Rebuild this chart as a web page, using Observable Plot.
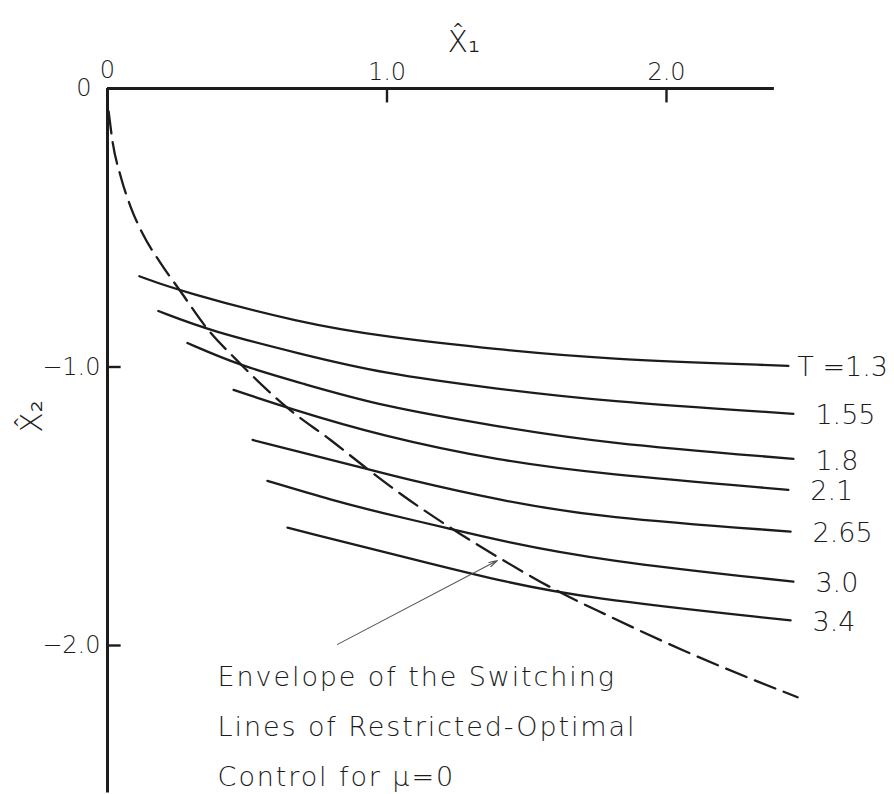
<!DOCTYPE html>
<html><head><meta charset="utf-8">
<script src="https://cdn.jsdelivr.net/npm/d3@7"></script>
<script src="https://cdn.jsdelivr.net/npm/@observablehq/plot@0.6"></script>
<style>
body{margin:0;background:#fff}
#chart svg{display:block}
</style>
</head><body><div id="chart"></div>
<script>
// ---- data ----
const tLabels = ["T =1.3", "1.55", "1.8", "2.1", "2.65", "3.0", "3.4"];
const curveT130 = [[0.114,-0.674],[0.261,-0.728],[0.691,-0.842],[1.000,-0.893],[1.406,-0.938],[1.764,-0.971],[2.436,-0.996]];
const curveT155 = [[0.182,-0.799],[0.369,-0.871],[0.691,-0.953],[0.977,-1.022],[1.406,-1.080],[1.764,-1.122],[2.454,-1.168]];
const curveT180 = [[0.286,-0.914],[0.476,-0.996],[0.691,-1.057],[0.977,-1.140],[1.406,-1.215],[1.764,-1.272],[2.454,-1.330]];
const curveT210 = [[0.451,-1.082],[0.644,-1.147],[0.977,-1.247],[1.406,-1.337],[1.764,-1.384],[2.436,-1.441]];
const curveT265 = [[0.519,-1.262],[0.930,-1.366],[1.048,-1.398],[1.406,-1.480],[1.764,-1.541],[2.444,-1.591]];
const curveT300 = [[0.572,-1.409],[0.809,-1.480],[0.977,-1.523],[1.227,-1.581],[1.406,-1.624],[1.764,-1.695],[2.454,-1.771]];
const curveT340 = [[0.644,-1.577],[1.227,-1.724],[1.406,-1.767],[1.692,-1.828],[2.444,-1.910]];
const envelope = [[0.004,-0.082],[0.018,-0.190],[0.047,-0.315],[0.082,-0.423],[0.125,-0.520],[0.190,-0.627],[0.261,-0.728],[0.358,-0.864],[0.465,-0.978],[0.644,-1.147],[0.798,-1.262],[0.930,-1.366],[1.048,-1.455],[1.227,-1.577],[1.406,-1.688],[1.621,-1.810],[1.789,-1.892],[2.061,-2.018],[2.469,-2.186]];
const xTicks = [1, 2];
const yTicks = [-1, -2];
const xAxisEnd = 2.386;
const yAxisEnd = -2.53;
const xTickLen = 0.05;    // inward tick length (data units)
const yTickLen = 0.047;
const pointer = [{x1: 0.823, y1: -1.996, x2: 1.395, y2: -1.695}];
const noteText = "Envelope of the Switching\nLines of Restricted-Optimal\nControl for \u03bc=0";
const noteAnchor = [{x: 0.394, y: -2.269}];

// ---- build tables ----
const curves = [curveT130, curveT155, curveT180, curveT210, curveT265, curveT300, curveT340];
const series = curves.flatMap((pts, i) => pts.map(([x, y]) => ({T: tLabels[i], x, y})));
const ends = curves.map((pts, i) => ({T: tLabels[i], x: pts[pts.length-1][0], y: pts[pts.length-1][1]}));
const env = envelope.map(([x, y]) => ({x, y}));
const xTickRows = xTicks.map(v => ({v, len: -xTickLen}));
const yTickRows = yTicks.map(v => ({v, len: yTickLen}));

const ink = "#1c1c1c";
const font = "DejaVu Sans";

const chart = Plot.plot({
  width: 894, height: 794,
  marginLeft: 107, marginRight: 4.4, marginTop: 88, marginBottom: 1.4,
  x: {domain: [0, 2.8], axis: null},
  y: {domain: [-2.53, 0], axis: null},
  style: {fontFamily: font, background: "#fff", color: ink},
  marks: [
    // axis frame lines
    Plot.ruleY([0], {x1: 0, x2: xAxisEnd, stroke: ink, strokeWidth: 3}),
    Plot.ruleX([0], {y1: 0, y2: yAxisEnd, stroke: ink, strokeWidth: 3}),
    // inward ticks
    Plot.link(xTickRows, {x1: "v", x2: "v", y1: () => 0, y2: "len", stroke: ink, strokeWidth: 2.4}),
    Plot.link(yTickRows, {y1: "v", y2: "v", x1: () => 0, x2: "len", stroke: ink, strokeWidth: 2.4}),
    // tick labels
    Plot.text(xTicks, {x: d => d, y: 0, text: d => d.toFixed(1), dy: -16, fontSize: 24, fill: ink, fontWeight: 200}),
    Plot.text(yTicks, {x: 0, y: d => d, text: d => "\u2212" + Math.abs(d).toFixed(1), textAnchor: "end", dx: -7, fontSize: 24, fill: ink, fontWeight: 200}),
    Plot.text([0], {x: 0, y: 0, text: () => "0", dy: -18, fontSize: 24, fill: ink, fontWeight: 200}),
    Plot.text([0], {x: 0, y: 0, text: () => "0", textAnchor: "end", dx: -16, fontSize: 24, fill: ink, fontWeight: 200}),
    // axis titles
    Plot.text(["X\u0302\u2081"], {frameAnchor: "top-left", dx: 340, dy: -58, fontSize: 30, fill: ink, fontWeight: 200}),
    Plot.text(["X\u0302\u2082"], {frameAnchor: "left", dx: -75, dy: -8, rotate: -90, fontSize: 30, fill: ink, fontWeight: 200}),
    // envelope (dashed)
    Plot.line(env, {x: "x", y: "y", stroke: ink, strokeWidth: 2.3, strokeDasharray: "22,9", curve: "monotone-x"}),
    // switching lines
    Plot.line(series, {x: "x", y: "y", z: "T", stroke: ink, strokeWidth: 2.3, curve: "basis"}),
    // curve labels
    Plot.text(ends.slice(0, 1), {x: "x", y: "y", text: "T", textAnchor: "start", dx: 9, dy: 1, fontSize: 27, fill: ink, fontWeight: 200}),
    Plot.text(ends.slice(1), {x: "x", y: "y", text: "T", textAnchor: "start", dx: 22, dy: 2, fontSize: 27, fill: ink, fontWeight: 200}),
    // pointer arrow
    Plot.arrow(pointer, {x1: "x1", y1: "y1", x2: "x2", y2: "y2", stroke: "#555", strokeWidth: 1.1, headLength: 12, headAngle: 30}),
    // note
    Plot.text(noteAnchor, {x: "x", y: "y", text: () => noteText, textAnchor: "start", lineAnchor: "middle", lineHeight: 1.85, fontSize: 27, fill: ink, fontWeight: 200})
  ]
});
document.getElementById("chart").appendChild(chart);
d3.select(chart).selectAll("text")
  .filter(function() { return this.textContent.indexOf("Envelope") === 0; })
  .attr("letter-spacing", "1.9px")
  .selectAll("tspan").attr("letter-spacing", "1.9px");
</script>
</body></html>
